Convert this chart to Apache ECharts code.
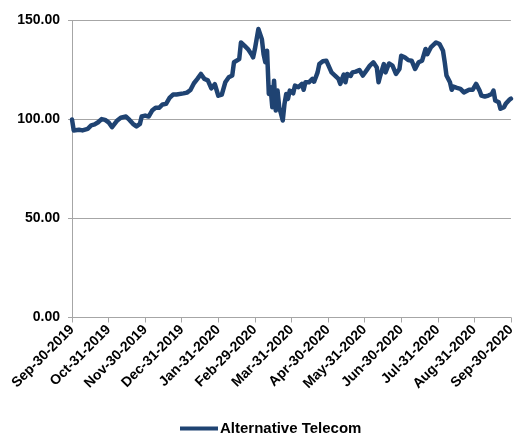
<!DOCTYPE html>
<html>
<head>
<meta charset="utf-8">
<script src="https://cdn.jsdelivr.net/npm/echarts@6/dist/echarts.min.js"></script>
<style>
  html, body { margin: 0; padding: 0; background: #ffffff; }
  #chart { width: 518px; height: 433px; }
</style>
</head>
<body>
<div id="chart"></div>
<script>
// Month-end labels, one every 21 trading sessions
const tickLabels = [
  'Sep-30-2019', 'Oct-31-2019', 'Nov-30-2019', 'Dec-31-2019', 'Jan-31-2020',
  'Feb-29-2020', 'Mar-31-2020', 'Apr-30-2020', 'May-31-2020', 'Jun-30-2020',
  'Jul-31-2020', 'Aug-31-2020', 'Sep-30-2020'
];
const sessionsPerMonth = 21;

// Trading session number (0 = Sep-30-2019)
const session = [
  0, 1, 4, 6, 7, 9, 11, 13, 15, 17, 19, 21, 23, 24, 26, 28, 31, 33, 35, 37,
  39, 40, 42, 44, 46, 48, 50, 52, 54, 56, 58, 60, 61, 64, 66, 68, 70, 72, 74, 76,
  77, 78, 80, 82, 84, 86, 88, 90, 92, 93, 96, 97, 99, 101, 103, 104, 105, 107, 109, 110,
  111, 112, 113, 114, 115, 116, 117, 118, 119, 120, 121, 122, 123, 124, 125, 126, 127, 128, 130, 132,
  133, 134, 136, 138, 139, 141, 142, 144, 146, 147, 149, 150, 151, 153, 154, 156, 157, 158, 160, 161,
  162, 163, 164, 165, 167, 169, 170, 171, 173, 175, 176, 177, 179, 180, 182, 184, 186, 188, 189, 191,
  193, 195, 197, 199, 201, 203, 204, 206, 207, 209, 211, 213, 214, 215, 217, 218, 219, 221, 223, 225,
  226, 228, 230, 232, 234, 235, 237, 239, 241, 242, 243, 245, 246, 248, 249, 251, 252
];

// Alternative Telecom index level (rebased to 100)
const altTelecom = [
  100, 94.5, 94.8, 94.5, 93.6, 95.3, 97, 97.5, 98.6, 100.2, 99.8, 98.6, 96.1, 96.1, 99.5, 100.9, 101.5, 99.8, 97.8, 96.5,
  97.8, 101.5, 102, 101.5, 104.5, 105.9, 105.9, 107.6, 107.9, 110.9, 112.6, 112.6, 112.1, 113.2, 113.6, 114.9, 118.3, 120.5, 123, 120.5,
  120.5, 119.8, 115.7, 117.8, 112, 112.6, 118.8, 121.3, 122.2, 128.9, 130.5, 138.9, 137.3, 135.6, 133, 131.4, 135.6, 145.7, 140.6, 133,
  128.9, 134.7, 112.9, 116.3, 106.2, 119.6, 104.5, 114.6, 106, 102.9, 99.5, 107.9, 112.9, 110.4, 114.6, 115.5, 113.2, 117.1, 116.3, 118,
  115, 118.8, 118.8, 120.5, 119.1, 123.8, 128, 129.4, 129.7, 128.9, 123.8, 124.3, 122.2, 120.5, 118, 122.7, 118.8, 123, 122, 123.8,
  123.3, 124.2, 124.7, 125, 122.2, 124.7, 123.8, 127.2, 128.9, 126.3, 118.8, 122.2, 128, 123.8, 128.3, 127.2, 123, 125.5, 132.2, 131.4,
  130, 129.7, 125.5, 128.9, 129.7, 135.6, 133, 136.4, 137.3, 138.9, 138.1, 134.7, 128.9, 122.2, 118.8, 115, 116.6, 116, 115.5, 113.7,
  113.7, 115, 115, 118, 114.6, 112.1, 111.6, 112.1, 112.9, 114.6, 109.6, 108.7, 105.4, 106.2, 107.9, 109.9, 110.5
];

const lineColor = '#1f4372';
const gridGrey = '#a6a6a6';
const fontFamily = '"Liberation Sans", Arial, sans-serif';

const chart = echarts.init(document.getElementById('chart'), null, { renderer: 'canvas' });

chart.setOption({
  animation: false,
  backgroundColor: '#ffffff',
  grid: { left: 72, right: 3, top: 20.5, bottom: 115.5, containLabel: false },
  xAxis: {
    type: 'value',
    min: 0,
    max: sessionsPerMonth * (tickLabels.length - 1),
    interval: sessionsPerMonth,
    axisLine: { show: true, lineStyle: { color: gridGrey, width: 1 } },
    axisTick: { show: true, length: 5, lineStyle: { color: gridGrey } },
    splitLine: { show: false },
    axisLabel: {
      rotate: 45,
      margin: 10,
      color: '#000000',
      fontFamily: fontFamily,
      fontWeight: 'bold',
      fontSize: 14,
      showMinLabel: true,
      showMaxLabel: true,
      formatter: v => tickLabels[Math.round(v / sessionsPerMonth)] || ''
    }
  },
  yAxis: {
    type: 'value',
    min: 0,
    max: 150,
    interval: 50,
    axisLine: { show: true, lineStyle: { color: gridGrey, width: 1 } },
    axisTick: { show: true, length: 4, lineStyle: { color: gridGrey } },
    splitLine: { show: true, lineStyle: { color: gridGrey, width: 1 } },
    axisLabel: {
      margin: 12,
      color: '#000000',
      fontFamily: fontFamily,
      fontWeight: 'bold',
      fontSize: 14,
      formatter: v => v.toFixed(2)
    }
  },
  legend: {
    top: 416,
    left: 175,
    icon: 'rect',
    itemWidth: 38,
    itemHeight: 4,
    itemGap: 10,
    textStyle: {
      color: '#000000',
      fontFamily: fontFamily,
      fontWeight: 'bold',
      fontSize: 15,
      padding: [0, 0, 0, -3]
    },
    data: ['Alternative Telecom']
  },
  series: [{
    name: 'Alternative Telecom',
    type: 'line',
    data: session.map((s, i) => [s, altTelecom[i]]),
    showSymbol: false,
    symbol: 'none',
    lineStyle: { color: lineColor, width: 4.5, join: 'round', cap: 'round' },
    itemStyle: { color: lineColor }
  }]
});
</script>
</body>
</html>
